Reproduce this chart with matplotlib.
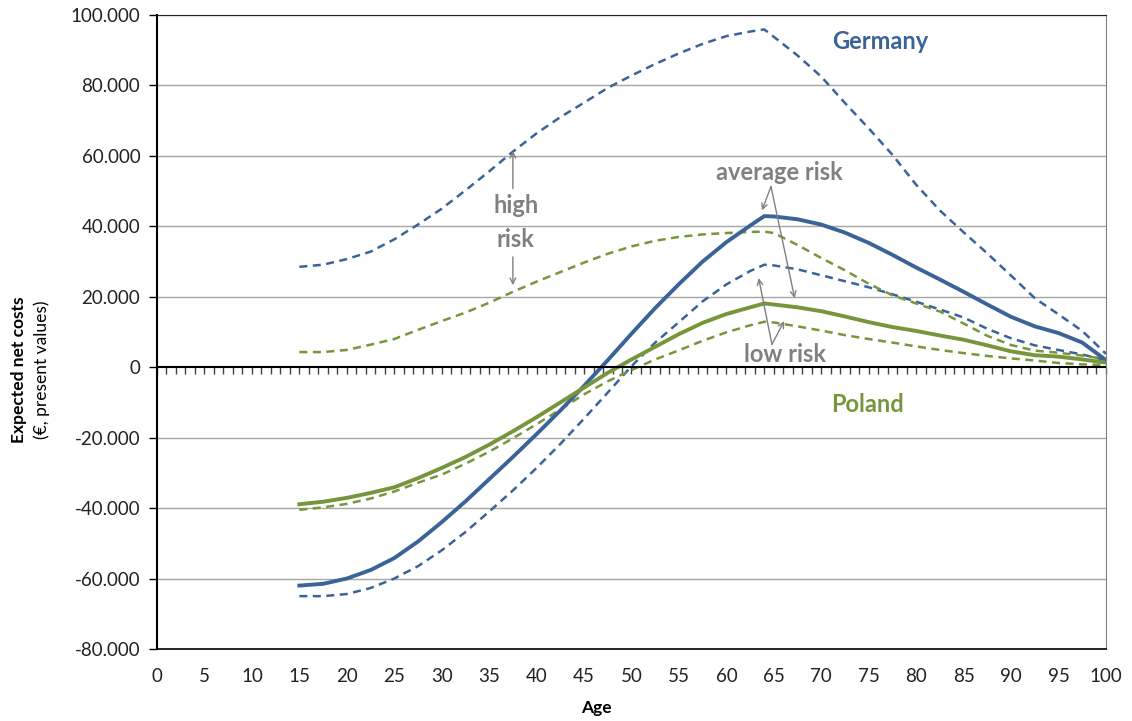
import matplotlib
matplotlib.use('Agg')
import matplotlib.pyplot as plt
from matplotlib.ticker import MultipleLocator, FuncFormatter

plt.rcParams['font.family'] = ['Lato', 'DejaVu Sans']

# Data
ages = [15, 17.5, 20, 22.5, 25, 27.5, 30, 32.5, 35, 37.5, 40, 42.5, 45, 47.5, 50, 52.5, 55, 57.5,
        60, 62.5, 64, 65, 67.5, 70, 72.5, 75, 77.5, 80, 82.5, 85, 87.5, 90, 92.5, 95, 97.5, 100]

de_high = [28500, 29100, 30700, 32800, 36300, 40500, 45000, 50200, 55600, 61200, 66400, 71000,
           75100, 79300, 82800, 86100, 89100, 91800, 94000, 95300, 95900, 93800, 88500, 82500,
           75000, 67800, 60300, 51800, 44500, 38300, 32300, 26000, 19600, 15000, 10300, 3800]
de_avg = [-62000, -61500, -60000, -57600, -54200, -49500, -44000, -38100, -31800, -25500, -19000,
          -12300, -5300, 2000, 9500, 16800, 23600, 30000, 35500, 40200, 42900, 42800, 42000, 40500,
          38200, 35300, 31900, 28300, 24900, 21400, 17800, 14300, 11600, 9700, 7000, 2000]
de_low = [-65000, -65000, -64400, -62700, -60000, -56500, -52000, -46800, -41000, -35000, -28600,
          -21800, -14600, -7200, 300, 7000, 12800, 18700, 23500, 27300, 29100, 28900, 27800, 26100,
          24400, 22700, 20700, 18600, 16400, 14100, 10900, 8200, 6200, 4900, 3600, 2000]

pl_high = [4300, 4300, 4900, 6400, 8000, 10600, 13100, 15500, 18300, 21400, 24300, 27000, 29700,
           32200, 34300, 35900, 37000, 37700, 38100, 38400, 38500, 38100, 34700, 31000, 27500,
           23700, 20400, 18100, 15800, 12400, 8900, 6300, 4700, 4100, 3300, 2300]
pl_avg = [-38900, -38200, -37100, -35700, -34100, -31500, -28600, -25500, -22000, -18200, -14200,
          -10000, -5800, -1600, 2200, 5800, 9400, 12600, 15100, 17000, 18100, 17800, 17000, 15900,
          14400, 12800, 11400, 10300, 9000, 7800, 6200, 4500, 3400, 3000, 2200, 1300]
pl_low = [-40500, -39800, -38800, -37300, -35300, -32800, -30500, -27400, -24000, -20200, -16200,
          -12000, -7700, -4000, -800, 2200, 4800, 7500, 9900, 11900, 12900, 12700, 11600, 10400,
          9100, 8000, 7000, 5900, 4900, 4000, 3200, 2500, 1900, 1200, 800, 600]

blue = '#3A6398'
green = '#77953B'
grey = '#808080'
dash = (0, (3.2, 2.2))

fig = plt.figure(figsize=(11.32, 7.21), dpi=100)
ax = fig.add_axes([0.1387, 0.0999, 0.8383, 0.8793])

ax.set_xlim(0, 100)
ax.set_ylim(-80000, 100000)

# grid
for v in range(-60000, 100001, 20000):
    if v != 0:
        ax.axhline(v, color='#a6a6a6', lw=1, zorder=0)

# lines
ax.plot(ages, de_high, color=blue, lw=1.8, ls=dash)
ax.plot(ages, de_low, color=blue, lw=1.8, ls=dash)
ax.plot(ages, pl_high, color=green, lw=1.8, ls=dash)
ax.plot(ages, pl_low, color=green, lw=1.8, ls=dash)
ax.plot(ages, de_avg, color=blue, lw=2.8, solid_joinstyle='miter')
ax.plot(ages, pl_avg, color=green, lw=2.8, solid_joinstyle='miter')

# x-axis through zero with small ticks
ax.axhline(0, color='black', lw=1.5, zorder=3)
sec = ax.secondary_xaxis(80 / 180)
sec.xaxis.set_major_locator(MultipleLocator(1))
sec.tick_params(direction='out', length=5, width=1, labelbottom=False, labeltop=False,
                bottom=True, top=False, color='#404040')
sec.spines['bottom'].set_visible(False)
sec.spines['top'].set_visible(False)

# spines
ax.spines['left'].set_color('black')
ax.spines['left'].set_linewidth(1.5)
ax.spines['bottom'].set_color('black')
ax.spines['bottom'].set_linewidth(1.2)
ax.spines['top'].set_color('#202020')
ax.spines['right'].set_color('#808080')

ax.xaxis.set_major_locator(MultipleLocator(5))
ax.yaxis.set_major_locator(MultipleLocator(20000))
ax.tick_params(axis='x', length=0, pad=14, labelsize=13.5, labelcolor='#222222')
ax.tick_params(axis='y', length=6, width=1, labelsize=13.5, labelcolor='#222222', pad=6)
ax.yaxis.set_major_formatter(FuncFormatter(lambda v, p: '0' if v == 0 else f'{int(v):,}'.replace(',', '.')))

# country labels
ax.text(76.2, 92600, 'Germany', color=blue, fontsize=17, fontweight='bold', ha='center', va='center')
ax.text(74.9, -10500, 'Poland', color=green, fontsize=17, fontweight='bold', ha='center', va='center')

# risk annotations
arrow = dict(arrowstyle='->', color=grey, lw=1, shrinkA=0, shrinkB=0)
ax.text(65.6, 55300, 'average risk', color=grey, fontsize=17, fontweight='bold', ha='center', va='center')
ax.annotate('', xy=(63.75, 44500), xytext=(64.7, 51300), arrowprops=arrow)
ax.annotate('', xy=(67.2, 19600), xytext=(64.7, 51300), arrowprops=arrow)

ax.text(37.8, 45800, 'high', color=grey, fontsize=17, fontweight='bold', ha='center', va='center')
ax.text(37.8, 36200, 'risk', color=grey, fontsize=17, fontweight='bold', ha='center', va='center')
ax.annotate('', xy=(37.5, 61400), xytext=(37.5, 50700), arrowprops=arrow)
ax.annotate('', xy=(37.5, 23300), xytext=(37.5, 31300), arrowprops=arrow)

ax.text(66.2, 3600, 'low risk', color=grey, fontsize=17, fontweight='bold', ha='center', va='center')
ax.annotate('', xy=(63.4, 25300), xytext=(64.8, 6500), arrowprops=arrow)
ax.annotate('', xy=(66.1, 13100), xytext=(64.8, 6500), arrowprops=arrow)

# axis titles
fig.text(0.0165, 0.487, 'Expected net costs', rotation=90, fontsize=12.5, fontweight='bold',
         ha='center', va='center')
fig.text(0.037, 0.487, '(€, present values)', rotation=90, fontsize=12.5, ha='center', va='center')
fig.text(0.527, 0.018, 'Age', fontsize=12.5, fontweight='bold', ha='center', va='center')

fig.savefig('out.png', dpi=100)
